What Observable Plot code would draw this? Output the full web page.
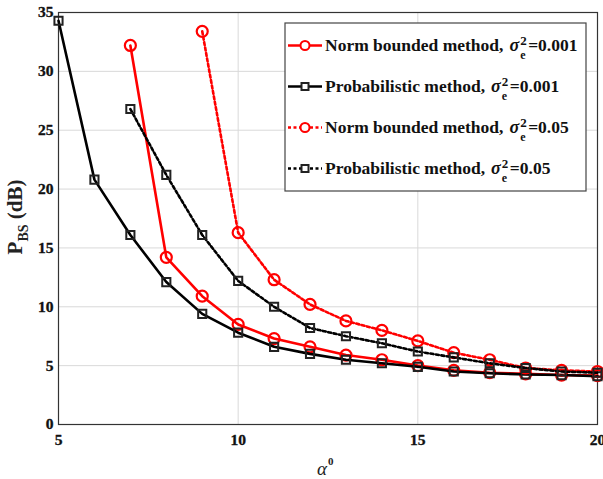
<!DOCTYPE html>
<html>
<head>
<meta charset="utf-8">
<script src="https://cdn.jsdelivr.net/npm/d3@7"></script>
<script src="https://cdn.jsdelivr.net/npm/@observablehq/plot@0.6"></script>
<style>
  html, body { margin: 0; padding: 0; background: #fff; }
  #wrap { width: 603px; height: 479px; }
</style>
</head>
<body>
<div id="wrap"></div>
<script>
const alpha = [5, 6, 7, 8, 9, 10, 11, 12, 13, 14, 15, 16, 17, 18, 19, 20];
const normBounded001 = [null, null, 32.2, 14.2, 10.9, 8.5, 7.3, 6.6, 5.9, 5.5, 5.0, 4.6, 4.4, 4.3, 4.2, 4.15];
const probabilistic001 = [34.3, 20.8, 16.1, 12.1, 9.4, 7.8, 6.6, 6.0, 5.5, 5.2, 4.9, 4.5, 4.35, 4.25, 4.2, 4.1];
const normBounded005 = [null, null, null, null, 33.4, 16.3, 12.3, 10.2, 8.8, 8.0, 7.1, 6.1, 5.5, 4.8, 4.6, 4.5];
const probabilistic005 = [null, null, 26.8, 21.2, 16.1, 12.2, 10.0, 8.2, 7.5, 6.9, 6.2, 5.7, 5.2, 4.8, 4.5, 4.4];
const xTicks = [5, 10, 15, 20];
const yTicks = [0, 5, 10, 15, 20, 25, 30, 35];
const legendLabels = ["Norm bounded method,", "Probabilistic method,", "Norm bounded method,", "Probabilistic method,"];
const legendValues = ["=0.001", "=0.001", "=0.05", "=0.05"];

const seriesDefs = [
  {values: normBounded001, color: "#ff0000", dash: null, symbol: "circle"},
  {values: probabilistic001, color: "#000000", dash: null, symbol: "square"},
  {values: normBounded005, color: "#ff0000", dash: "3,2.5", symbol: "circle"},
  {values: probabilistic005, color: "#000000", dash: "3,2.5", symbol: "square"}
];

const FONT = "'Liberation Serif', 'Times New Roman', serif";

const marks = [
  Plot.gridX(xTicks, {stroke: "#d9d9d9", strokeOpacity: 1}),
  Plot.gridY(yTicks, {stroke: "#d9d9d9", strokeOpacity: 1}),
  Plot.frame({stroke: "#333", strokeWidth: 1.2}),
  Plot.text(xTicks, {x: d => d, y: () => 0, dy: 16, text: d => String(d), fontSize: 15.5, fontWeight: "bold", fill: "#111", stroke: "#111", strokeWidth: 0.35, textAnchor: "middle"}),
  Plot.text(yTicks, {x: () => 5, y: d => d, dx: -5, text: d => String(d), fontSize: 15.5, fontWeight: "bold", fill: "#111", stroke: "#111", strokeWidth: 0.35, textAnchor: "end"})
];

for (const s of seriesDefs) {
  const rows = alpha.map((a, i) => ({x: a, y: s.values[i]})).filter(d => d.y != null);
  marks.push(Plot.line(rows, {x: "x", y: "y", stroke: s.color, strokeWidth: 2.6, strokeDasharray: s.dash}));
  if (s.symbol === "circle") {
    marks.push(Plot.dot(rows, {x: "x", y: "y", symbol: "circle", r: 5.5, stroke: s.color, strokeWidth: 2.2, fill: "none"}));
  } else {
    marks.push(Plot.dot(rows, {x: "x", y: "y", symbol: "square", r: 4.6, stroke: "#222", strokeWidth: 2, fill: "none"}));
  }
}

const chart = Plot.plot({
  width: 603,
  height: 479,
  marginLeft: 58,
  marginRight: 6,
  marginTop: 12,
  marginBottom: 55,
  style: {fontFamily: FONT, fontSize: "15px", color: "#222", background: "#fff", overflow: "visible"},
  x: {domain: [5, 20], axis: null},
  y: {domain: [0, 35], axis: null},
  marks
});

document.getElementById("wrap").appendChild(chart);
const svg = d3.select(chart);

// x axis label: alpha with superscript 0
const xl = svg.append("text")
  .attr("x", 317).attr("y", 475)
  .attr("text-anchor", "start")
  .attr("font-family", FONT)
  .attr("font-size", 19).attr("fill", "#222");
xl.append("tspan").attr("font-style", "italic").text("α");
xl.append("tspan").attr("dy", -10).attr("dx", 1).attr("font-size", 11).attr("font-weight", "bold").text("0");

// y axis label
const yl = svg.append("text")
  .attr("transform", "translate(22,217) rotate(-90)")
  .attr("text-anchor", "middle")
  .attr("font-family", FONT)
  .attr("font-weight", "bold")
  .attr("font-size", 21).attr("fill", "#222");
yl.append("tspan").text("P");
yl.append("tspan").attr("dy", 6).attr("font-size", 14).text("BS");
yl.append("tspan").attr("dy", -6).text(" (dB)");

// legend
const lg = svg.append("g").attr("font-family", FONT).attr("fill", "#111").attr("text-anchor", "start");
lg.append("rect").attr("x", 285).attr("y", 23).attr("width", 301).attr("height", 168)
  .attr("fill", "#fff").attr("stroke", "#444").attr("stroke-width", 1.2);
seriesDefs.forEach((s, i) => {
  const by = 51 + 41 * i;
  const cy = by - 5.5;
  lg.append("line").attr("x1", 288).attr("x2", 322).attr("y1", cy).attr("y2", cy)
    .attr("stroke", s.color).attr("stroke-width", 2.6).attr("stroke-dasharray", s.dash);
  if (s.symbol === "circle") {
    lg.append("circle").attr("cx", 305).attr("cy", cy).attr("r", 4.5)
      .attr("fill", "#fff").attr("stroke", s.color).attr("stroke-width", 2);
  } else {
    lg.append("rect").attr("x", 301.5).attr("y", cy - 3.5).attr("width", 7).attr("height", 7)
      .attr("fill", "#fff").attr("stroke", "#222").attr("stroke-width", 2);
  }
  const t1 = lg.append("text").attr("x", 325).attr("y", by)
    .attr("font-size", 17.5).attr("font-weight", "bold").text(legendLabels[i]);
  let x = 325 + t1.node().getComputedTextLength() + 6;
  const t2 = lg.append("text").attr("x", x).attr("y", by)
    .attr("font-size", 18).attr("font-weight", "bold").attr("font-style", "italic").text("σ");
  x += t2.node().getComputedTextLength() + 1;
  lg.append("text").attr("x", x).attr("y", by - 6.5).attr("font-size", 13).attr("font-weight", "bold").text("2");
  lg.append("text").attr("x", x).attr("y", by + 7.5).attr("font-size", 12).attr("font-weight", "bold").text("e");
  x += 8;
  lg.append("text").attr("x", x).attr("y", by)
    .attr("font-size", 17.5).attr("font-weight", "bold").text(legendValues[i]);
});
</script>
</body>
</html>
